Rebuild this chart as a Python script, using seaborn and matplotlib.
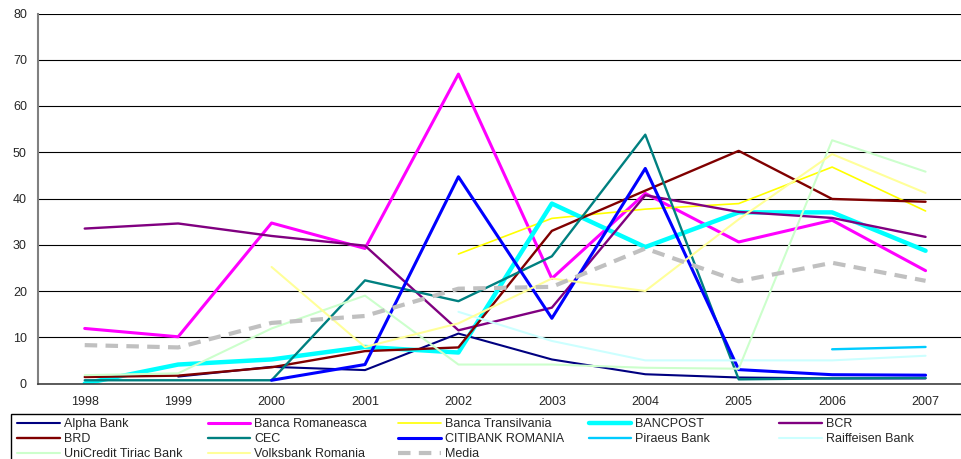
import numpy as np
import pandas as pd
import matplotlib.pyplot as plt
import matplotlib.patches as mpatches
import seaborn as sns
from matplotlib.ticker import MultipleLocator, FixedLocator

sns.set_style("white")
plt.rcParams['font.family'] = ['Liberation Sans', 'DejaVu Sans']

years = ["1998", "1999", "2000", "2001", "2002", "2003", "2004", "2005", "2006", "2007"]
nan = np.nan

alpha_bank = [nan, 1.5, 3.6, 2.9, 10.8, 5.2, 2.0, 1.3, 1.1, 1.1]
banca_romaneasca = [11.9, 10.1, 34.7, 29.2, 66.9, 22.7, 41.1, 30.6, 35.3, 24.4]
banca_transilvania = [nan, nan, nan, nan, 28.0, 35.7, 37.7, 38.9, 46.8, 37.3]
bancpost = [0.0, 4.1, 5.2, 7.9, 6.7, 38.9, 29.5, 37.0, 37.0, 28.7]
bcr = [33.5, 34.6, 31.9, 29.8, 11.5, 16.4, 40.7, 37.1, 35.8, 31.7]
brd = [1.4, 1.7, 3.5, 7.0, 7.8, 33.0, 41.7, 50.3, 39.9, 39.3]
cec = [0.7, 0.7, 0.7, 22.3, 17.8, 27.5, 53.8, 0.9, 1.1, 1.2]
citibank = [nan, nan, 0.7, 4.1, 44.7, 14.1, 46.5, 3.0, 1.9, 1.8]
piraeus = [nan, nan, nan, nan, nan, nan, nan, nan, 7.4, 7.9]
raiffeisen = [nan, nan, nan, nan, 15.5, 9.2, 5.0, 5.0, 5.0, 6.0]
unicredit = [1.8, 2.2, 11.9, 19.0, 4.1, 4.1, 3.4, 3.2, 52.6, 45.8]
volksbank = [nan, nan, 25.2, 7.9, 13.0, 22.7, 20.0, 35.5, 49.6, 41.2]
media = [8.3, 7.8, 13.1, 14.6, 20.5, 20.9, 29.2, 22.1, 26.1, 22.2]

series = [
    ("Alpha Bank", alpha_bank, "#000080", 1.5, "-"),
    ("Banca Romaneasca", banca_romaneasca, "#FF00FF", 2.2, "-"),
    ("Banca Transilvania", banca_transilvania, "#FFFF00", 1.2, "-"),
    ("BANCPOST", bancpost, "#00FFFF", 3.2, "-"),
    ("BCR", bcr, "#800080", 1.7, "-"),
    ("BRD", brd, "#800000", 1.7, "-"),
    ("CEC", cec, "#008080", 1.7, "-"),
    ("CITIBANK ROMANIA", citibank, "#0000FF", 2.2, "-"),
    ("Piraeus Bank", piraeus, "#00CCFF", 1.7, "-"),
    ("Raiffeisen Bank", raiffeisen, "#CCFFFF", 1.5, "-"),
    ("UniCredit Tiriac Bank", unicredit, "#CCFFCC", 1.5, "-"),
    ("Volksbank Romania", volksbank, "#FFFF99", 1.5, "-"),
    ("Media", media, "#C0C0C0", 3.0, "--"),
]

fig = plt.figure(figsize=(9.62, 4.59), dpi=100)
ax = fig.add_axes([38 / 962, 1 - 383.5 / 459, 1 - 38 / 962, 370 / 459])

x = np.arange(len(years))
for name, vals, col, lw, ls in series:
    df = pd.DataFrame({"x": x, "y": vals}).dropna()
    sns.lineplot(data=df, x="x", y="y", color=col, lw=lw, ax=ax, label=name, legend=False)
    if ls == "--":
        ax.lines[-1].set_dashes([3, 2])
        ax.lines[-1].set_dash_capstyle("butt")

ax.set_ylim(0, 80)
ax.set_xlim(-0.5, 9.39)
ax.yaxis.set_major_locator(MultipleLocator(10))
ax.set_xticks(x)
ax.set_xticklabels(years)
ax.xaxis.set_minor_locator(FixedLocator(np.arange(-0.5, 10, 1)))
ax.tick_params(axis="x", which="major", length=0, labelsize=9, pad=9)
ax.tick_params(axis="x", which="minor", length=4, width=1, color="black", direction="out")
ax.tick_params(axis="y", length=4, width=1, color="black", direction="out", labelsize=9, pad=4)
ax.set_xlabel("")
ax.set_ylabel("")
ax.grid(axis="y", color="black", lw=0.8)
ax.set_axisbelow(True)
for s in ["top", "right"]:
    ax.spines[s].set_visible(False)
ax.spines["left"].set_color("#808080")
ax.spines["left"].set_linewidth(1.5)
ax.spines["bottom"].set_color("#404040")
ax.spines["bottom"].set_linewidth(1.2)

# legend: five evenly spaced columns, filled row by row like the original
handles = ax.get_lines()
labels = [s[0] for s in series]
ncol = 5
for c in range(ncol):
    idx = list(range(c, len(labels), ncol))
    leg = fig.legend([handles[i] for i in idx], [labels[i] for i in idx],
                     loc="upper left", bbox_to_anchor=((13 + c * 190.5) / 962, 1 - 414 / 459),
                     fontsize=9, handlelength=3.4, handletextpad=0.3,
                     labelspacing=0.22, borderpad=0.35, borderaxespad=0,
                     frameon=False)
fig.add_artist(mpatches.Rectangle((11 / 962, -0.01), 1.0, (459 - 414) / 459 + 0.01,
                                  transform=fig.transFigure, fill=False,
                                  edgecolor="black", lw=1.0))

fig.savefig("out.png", dpi=100)
